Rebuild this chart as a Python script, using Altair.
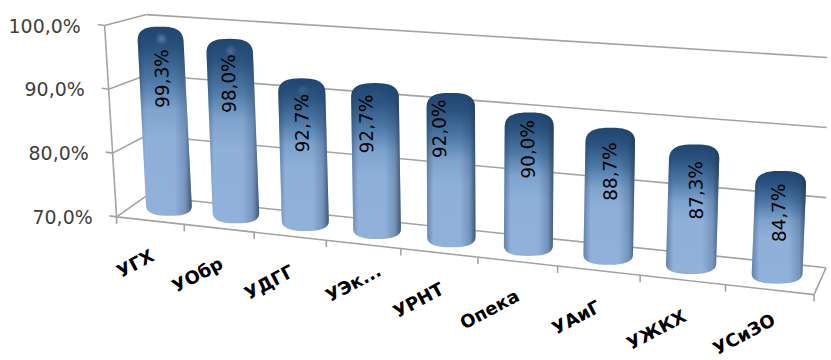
import altair as alt
import numpy as np
import pandas as pd

# Chart content
categories = ["УГХ", "УОбр", "УДГГ", "УЭк...", "УРНТ", "Опека", "УАиГ", "УЖКХ", "УСиЗО"]
values = [99.3, 98.0, 92.7, 92.7, 92.0, 90.0, 88.7, 87.3, 84.7]
axis_ticks = [100, 90, 80, 70]
axis_labels = ["100,0%", "90,0%", "80,0%", "70,0%"]

# Placement tweaks for the text on and below the cylinders
label_drop = [52, 45, 45, 41, 36, 37, 44, 46, 42]
label_shift = [2.5, 0, 1, -8, -11, -1, 0, 2, -2]
category_shift = [(0, -3), (0, -3), (0, -3), (14, -12), (1, -2), (-2, -4), (-2, -2), (0, -2), (2, -8)]

W, H = 831, 360
FLOOR, CEIL = 70.0, 100.0


def bilinear(p00, p01, p10, p11):
    """Map (u across 0..1, percent) onto a wall given its four canvas corners."""
    def project(u, pct):
        v = (pct - FLOOR) / (CEIL - FLOOR)
        x = (1 - u) * ((1 - v) * p00[0] + v * p01[0]) + u * ((1 - v) * p10[0] + v * p11[0])
        y = (1 - u) * ((1 - v) * p00[1] + v * p01[1]) + u * ((1 - v) * p10[1] + v * p11[1])
        return x, y
    return project


back_wall = bilinear((147, 196), (147, 14), (829, 268), (830, 57))
left_wall = bilinear((117, 217), (105, 25), (147, 196), (147, 14))


def receding(u, start, end, a):
    """Position along an edge seen in perspective, u from 0 to 1."""
    return (start + (end * (1 + a) - start) * u) / (1 + a * u)


def front_floor(u):
    x = receding(u, 117, 817, -0.14)
    return x, 217 + (x - 117) * 78 / 700


def bar_point(k, pct):
    """Canvas position of the axis of cylinder k at a given percent."""
    u = k / (len(values) - 1)
    x0 = receding(u, 170, 779.5, -0.133)
    y0 = 216 + (x0 - 170) * 68 / 609.5
    t = (x0 - 170) / 609.5
    rise = (6.48 + 1.21 * t) * (pct - FLOOR)
    lean = (-0.324 + 0.63 * t) * (pct - FLOOR)
    return x0 + lean, y0 - rise


# Frame: back wall and side wall gridlines, floor edges and tick marks
segments = []


def add_segment(a, b):
    sid = len(segments)
    segments.append({"seg": sid, "x": a[0], "y": a[1]})
    segments.append({"seg": sid, "x": b[0], "y": b[1]})


for t in axis_ticks:
    add_segment(back_wall(0, t), back_wall(1, t))
    add_segment(left_wall(0, t), left_wall(1, t))
    px, py = left_wall(0, t)
    add_segment((px - 7, py - 1), (px, py))
add_segment(left_wall(0, FLOOR), left_wall(0, CEIL))
add_segment(front_floor(0), front_floor(1))
add_segment(front_floor(1), back_wall(1, FLOOR))
for i in range(len(categories) + 1):
    tx, ty = front_floor(i / len(categories))
    add_segment((tx, ty), (tx, ty + 7))
frame = pd.DataFrame(segments)

# Cylinder outlines: left and right edge for each row of canvas y
outline_rows = []
for k, val in enumerate(values):
    u = k / (len(values) - 1)
    bx, by = bar_point(k, FLOOR)
    tx, ty = bar_point(k, val)
    half = 23 + 2.5 * u
    cap, foot = 16.0, 11.0
    ys = np.concatenate([
        ty + cap * (1 - np.cos(np.linspace(0, np.pi / 2, 16))),
        np.linspace(ty + cap + 4, by - foot - 2, 4),
        by - foot + foot * np.sin(np.linspace(0, np.pi / 2, 14)),
    ])
    for y in ys:
        cx = tx + (bx - tx) * (y - ty) / (by - ty)
        inset = 0.0
        if y < ty + cap:
            s = (ty + cap - y) / cap
            inset = half * (1 - (1 - s ** 2.8) ** (1 / 2.8))
        elif y > by - foot:
            s = (y - by + foot) / foot
            inset = half * (1 - (1 - s ** 2.6) ** (1 / 2.6))
        outline_rows.append({"bar": k, "y": y, "xl": cx - half + inset, "xr": cx + half - inset})
outlines = pd.DataFrame(outline_rows)

# Text and highlight tables
bar_labels = pd.DataFrame([
    {
        "label": f"{val:.1f}".replace(".", ",") + "%",
        "x": bar_point(k, val)[0] + label_shift[k],
        "y": bar_point(k, val)[1] + label_drop[k],
    }
    for k, val in enumerate(values)
])
glints = pd.DataFrame([
    {"x": bar_point(k, val)[0] + 1.5, "y": bar_point(k, val)[1] + 12, "a": max(0.0, 0.6 - 0.18 * k)}
    for k, val in enumerate(values)
])
n = len(categories)
cat_labels = pd.DataFrame([
    {
        "label": c,
        "x": front_floor((i + 0.5) / n)[0] + 3 + category_shift[i][0],
        "y": front_floor((i + 0.5) / n)[1] + 38 + category_shift[i][1],
    }
    for i, c in enumerate(categories)
])
tick_labels = pd.DataFrame([
    {"label": lab, "x": left_wall(0, t)[0] - 24, "y": left_wall(0, t)[1] + 1}
    for t, lab in zip(axis_ticks, axis_labels)
])

x_enc = alt.X("x:Q", scale=alt.Scale(domain=[0, W], range=[0, W]), axis=None)
y_enc = alt.Y("y:Q", scale=alt.Scale(domain=[0, H], range=[0, H]), axis=None)

frame_layer = alt.Chart(frame).mark_line(color="#a3a3a3", strokeWidth=1.6).encode(
    x=x_enc, y=y_enc, detail="seg:N"
)

body_fill = alt.Gradient(
    gradient="linear", x1=0, y1=0, x2=0, y2=1,
    stops=[
        alt.GradientStop(offset=0.0, color="#1f4570"),
        alt.GradientStop(offset=0.12, color="#2c5480"),
        alt.GradientStop(offset=0.28, color="#4c78a6"),
        alt.GradientStop(offset=0.44, color="#7ea3cd"),
        alt.GradientStop(offset=0.6, color="#8eb0d9"),
        alt.GradientStop(offset=1.0, color="#90b1d9"),
    ],
)
edge_fill = alt.Gradient(
    gradient="linear", x1=0, y1=0, x2=1, y2=0,
    stops=[
        alt.GradientStop(offset=0.0, color="rgba(35,60,95,0.4)"),
        alt.GradientStop(offset=0.14, color="rgba(35,60,95,0)"),
        alt.GradientStop(offset=0.68, color="rgba(35,60,95,0)"),
        alt.GradientStop(offset=0.88, color="rgba(35,60,95,0.25)"),
        alt.GradientStop(offset=1.0, color="rgba(35,55,85,0.75)"),
    ],
)


def bars(fill):
    return alt.Chart(outlines).mark_area(orient="horizontal", fill=fill, interpolate="linear").encode(
        y=y_enc,
        x=alt.X("xl:Q", scale=alt.Scale(domain=[0, W], range=[0, W]), axis=None, stack=None),
        x2="xr:Q",
        detail="bar:N",
    )


glint_fill = alt.RadialGradient(
    gradient="radial", x1=0.5, y1=0.5, x2=0.5, y2=0.5, r1=0, r2=0.5,
    stops=[
        alt.GradientStop(offset=0.0, color="rgba(130,170,205,0.9)"),
        alt.GradientStop(offset=1.0, color="rgba(130,170,205,0)"),
    ],
)
glint_layer = alt.Chart(glints).mark_point(filled=True, fill=glint_fill, size=160, shape="circle", strokeWidth=0).encode(
    x=x_enc, y=y_enc, opacity=alt.Opacity("a:Q", scale=None)
)

value_text = alt.Chart(bar_labels).mark_text(
    font="DejaVu Sans", fontSize=18.5, angle=269, color="#000000", align="center", baseline="middle"
).encode(x=x_enc, y=y_enc, text="label:N")

category_text = alt.Chart(cat_labels).mark_text(
    font="DejaVu Sans", fontSize=18, fontWeight="bold", angle=332, color="#000000", align="right", baseline="middle"
).encode(x=x_enc, y=y_enc, text="label:N")

axis_text = alt.Chart(tick_labels).mark_text(
    font="DejaVu Sans", fontSize=19, color="#404040", align="right", baseline="middle"
).encode(x=x_enc, y=y_enc, text="label:N")

chart = (
    alt.layer(frame_layer, bars(body_fill), bars(edge_fill), glint_layer, value_text, category_text, axis_text)
    .properties(width=W, height=H, padding=0, background="white")
    .configure_view(stroke=None)
)

chart.save("out.html", embed_options={"renderer": "svg", "actions": False})
